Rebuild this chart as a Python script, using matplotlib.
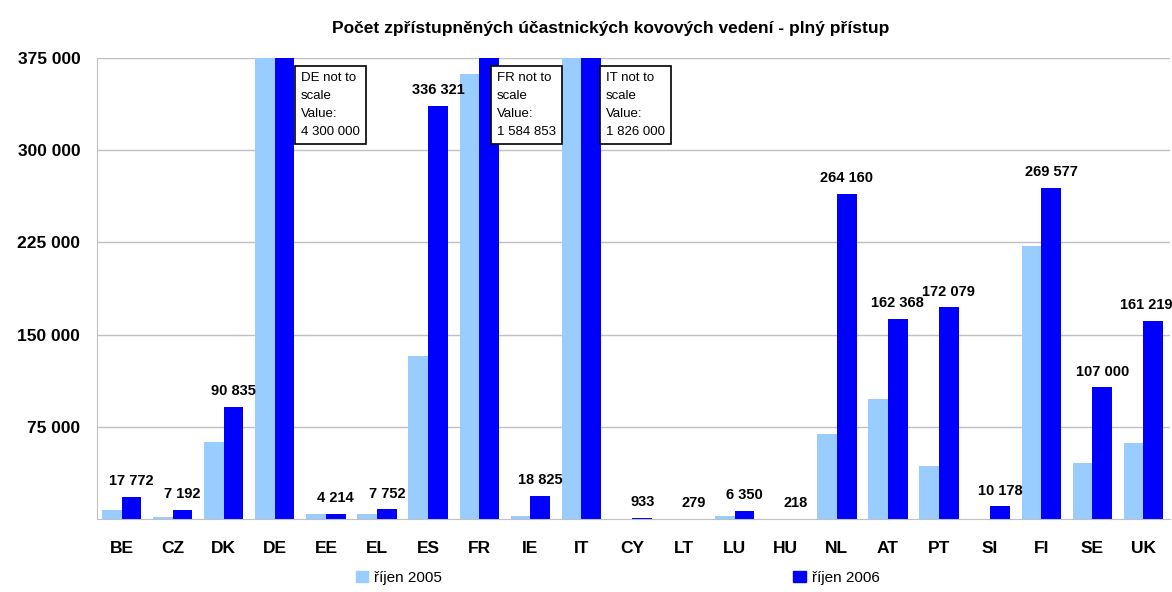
import matplotlib
matplotlib.use('Agg')
import matplotlib.pyplot as plt
import numpy as np
from matplotlib.patches import Patch

plt.rcParams['font.family'] = ['Liberation Sans', 'DejaVu Sans']

countries = ['BE', 'CZ', 'DK', 'DE', 'EE', 'EL', 'ES', 'FR', 'IE', 'IT', 'CY',
             'LT', 'LU', 'HU', 'NL', 'AT', 'PT', 'SI', 'FI', 'SE', 'UK']
# 2005 values (DE and IT are cut off at the top)
oct2005 = [7000, 1500, 63000, 4000000, 4000, 4000, 132600, 361700, 2500, 1700000, 0,
           0, 2700, 0, 69000, 97400, 43100, 0, 222000, 45300, 61600]
oct2006 = [17772, 7192, 90835, 4300000, 4214, 7752, 336321, 1584853, 18825, 1826000, 933,
           279, 6350, 218, 264160, 162368, 172079, 10178, 269577, 107000, 161219]
not_to_scale = ['DE', 'FR', 'IT']
note_dx = [0.51, 0.34, 0.48]

title = 'Počet zpřístupněných účastnických kovových vedení - plný přístup'
legend_labels = ['říjen 2005', 'říjen 2006']
c_light = '#99ccff'
c_dark = '#0000ff'
ymax = 375000


def fmt(v):
    return f'{v:,}'.replace(',', ' ')


fig = plt.figure(figsize=(11.72, 5.92), dpi=100)
ax = fig.add_axes([97 / 1172, 1 - 519 / 592, (1170 - 97) / 1172, (519 - 58) / 592])

x = np.arange(len(countries))
w = 0.385
ax.bar(x - w / 2, oct2005, w, color=c_light, zorder=2)
ax.bar(x + w / 2, oct2006, w, color=c_dark, zorder=2)

ax.set_xlim(-0.48, len(countries) - 0.48)
ax.set_ylim(0, ymax)
ax.set_yticks(np.arange(75000, ymax + 1, 75000))
ax.set_yticklabels([fmt(v) for v in np.arange(75000, ymax + 1, 75000)],
                   fontsize=12.5, fontweight='bold')
ax.set_xticks(x)
ax.set_xticklabels(countries, fontsize=12.5, fontweight='bold')
ax.tick_params(axis='y', length=0, pad=12)
ax.tick_params(axis='x', length=0, pad=16)
ax.grid(axis='y', color='#c0c0c0', lw=1)
ax.set_axisbelow(True)
for s in ['top', 'right']:
    ax.spines[s].set_visible(False)
ax.spines['left'].set_color('#c0c0c0')
ax.spines['bottom'].set_color('#c0c0c0')

for i, c in enumerate(countries):
    v = oct2006[i]
    if c in not_to_scale:
        k = not_to_scale.index(c)
        ax.text(i + note_dx[k], 364000, f'{c} not to\nscale\nValue:\n{fmt(v)}',
                ha='left', va='top', fontsize=9.5, linespacing=1.7,
                bbox=dict(boxstyle='square,pad=0.45', fc='white', ec='black', lw=1.2),
                zorder=5)
    else:
        # last label sits against the right edge
        dx = -5 if i == len(countries) - 1 else 0
        ax.annotate(fmt(v), (i + w / 2, v), xytext=(dx, 8.6), textcoords='offset points',
                    ha='center', va='baseline', fontsize=10.5, fontweight='bold')

fig.text(611 / 1172, 1 - 28 / 592, title, ha='center', va='center',
         fontsize=12.5, fontweight='bold')

handles = [Patch(color=c_light), Patch(color=c_dark)]
fig.legend(handles, legend_labels, ncol=2, loc='center', bbox_to_anchor=(0.527, 0.024),
           frameon=False, fontsize=11, handlelength=0.8, handleheight=0.8,
           handletextpad=0.4, columnspacing=23)

fig.savefig('out.png', dpi=100)
